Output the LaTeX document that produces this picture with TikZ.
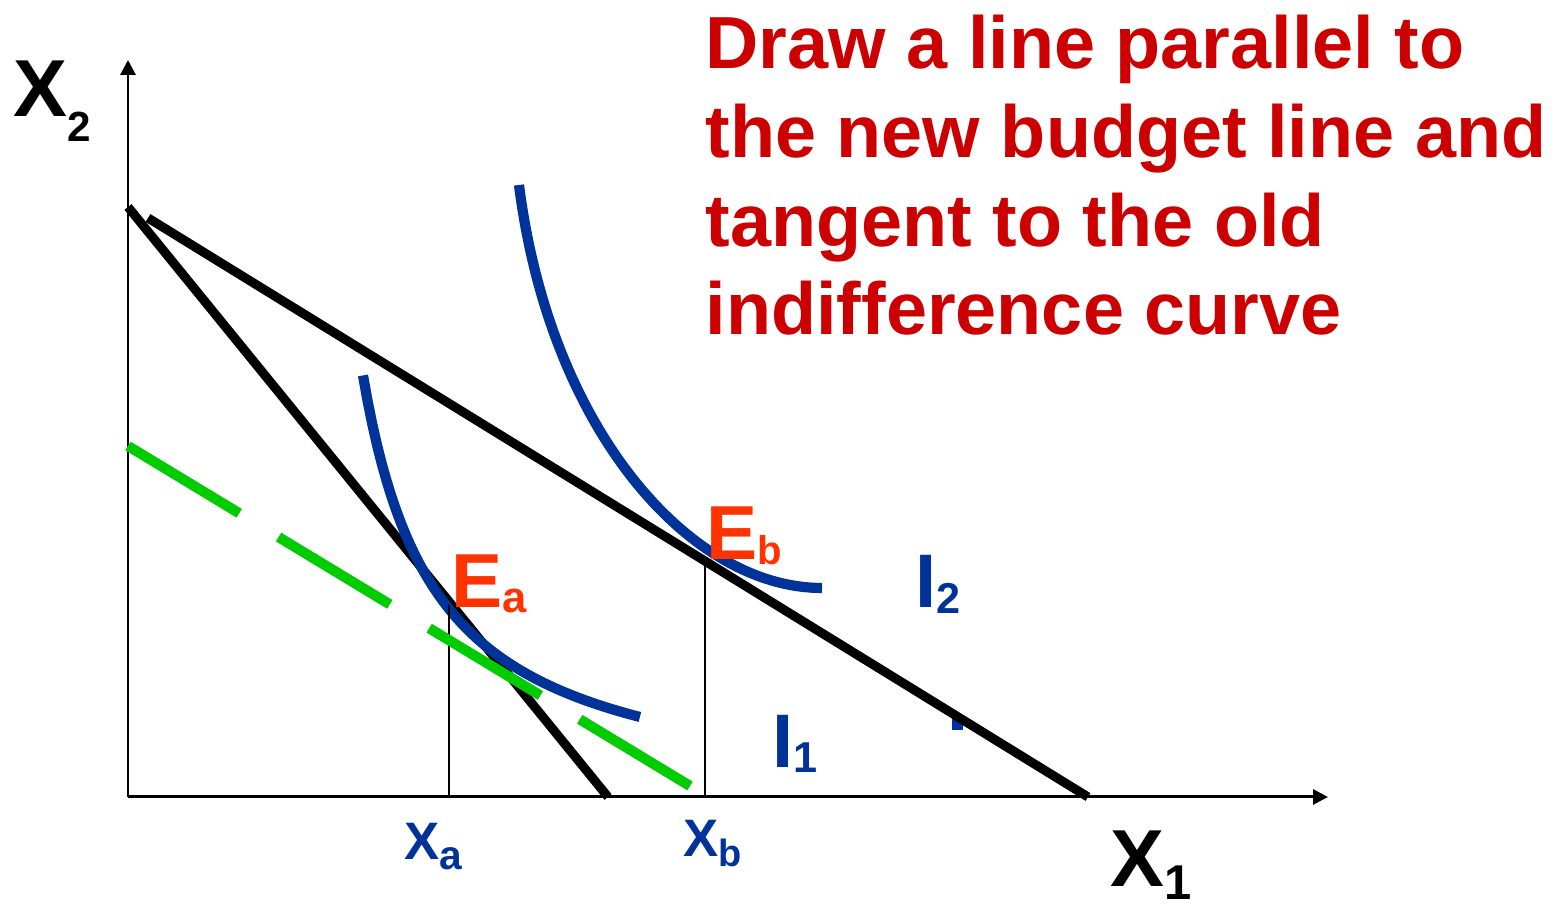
\documentclass[tikz,border=0pt]{standalone}
\usepackage{fontspec}
\setmainfont{Liberation Sans}
\usepackage{xcolor}
\usetikzlibrary{arrows.meta,calc}

\definecolor{icblue}{HTML}{003399}
\definecolor{eorange}{HTML}{FF3300}
\definecolor{notered}{HTML}{CC0000}
\definecolor{dashgreen}{HTML}{00CC00}

% label with a lowered subscript: main, sub, drop, sub size
\newcommand{\withsub}[4]{#1\raisebox{-#3}{\fontsize{#4}{#4}\selectfont #2}}

\begin{document}
\begin{tikzpicture}[
  axis/.style={draw, line width=0.85pt, -{Triangle[length=1.5mm,width=1.5mm]}},
  budget/.style={draw, line width=2.6pt},
  icurve/.style={draw=icblue, line width=2.9pt},
  guide/.style={draw, line width=0.6pt},
  shifted/.style={draw=dashgreen, line width=2.9pt, dash pattern=on 1.3cm off 0.46cm},
  lbl/.style={inner sep=0pt, anchor=base west},
  axlbl/.style={lbl, font=\fontsize{23pt}{23pt}\selectfont\bfseries},
  eqlbl/.style={lbl, text=eorange, font=\fontsize{21.8pt}{21.8pt}\selectfont\bfseries},
  iclbl/.style={lbl, text=icblue, font=\fontsize{21.6pt}{21.6pt}\selectfont\bfseries},
  qlbl/.style={lbl, text=icblue, font=\fontsize{15pt}{15pt}\selectfont\bfseries},
]
  \useasboundingbox (0,0) rectangle (15.64,9.07);
  % AXES
  \coordinate (O) at (1.28,1.10);
  \coordinate (ytip) at (1.28,8.47);
  \coordinate (xtip) at (13.28,1.10);
  \draw[axis] (O) -- (ytip);
  \draw[axis] (O) -- (xtip);
  \node[axlbl] (x2-lab) at (0.13,7.90) {\withsub{X}{2}{0.25cm}{12pt}};
  \node[axlbl] (x1-lab) at (11.10,0.20) {\withsub{X}{1}{0.13cm}{13.9pt}};
  % BUDGET LINES
  \coordinate (old-top) at (1.28,7.00);
  \coordinate (old-end) at (6.08,1.10);
  \coordinate (new-top) at (1.48,6.89);
  \coordinate (new-end) at (10.88,1.10);
  \coordinate (Ea) at (4.49,3.02);
  \coordinate (Eb) at (7.05,3.49);
  \draw[budget] (old-top) -- (old-end);
  % INDIFFERENCE CURVES
  \draw[icurve] plot[domain=3.63:6.40, samples=60] (\x,{1.00+3.15/(\x-2.90)});
  \coordinate (i2-top) at (5.19,7.22);
  \coordinate (i2-end) at (8.22,3.19);
  \draw[icurve] (i2-top) .. controls (5.50,4.77) and (6.90,3.19) .. (i2-end);
  \fill[icblue] (9.52,1.77) rectangle (9.63,1.92);
  \draw[budget] (new-top) -- (new-end);
  % DROP LINES
  \draw[guide] (Ea) -- (Ea |- O);
  \draw[guide] (Eb) -- (Eb |- O);
  % PARALLEL LINE
  \coordinate (par-top) at (1.28,4.61);
  \coordinate (par-end) at (6.90,1.21);
  \draw[shifted] (par-top) -- (par-end);
  % LABELS
  \node[eqlbl] (ea-lab) at (4.51,2.99) {\withsub{E}{a}{0.05cm}{12.4pt}};
  \node[eqlbl] (eb-lab) at (7.06,3.47) {\withsub{E}{b}{0.05cm}{11.4pt}};
  \node[iclbl] (i2-lab) at (9.15,2.99) {\withsub{I}{2}{0.06cm}{12.3pt}};
  \node[iclbl] (i1-lab) at (7.72,1.39) {\withsub{I}{1}{0.05cm}{12.3pt}};
  \node[qlbl] (xa-lab) at (4.04,0.47) {\withsub{X}{a}{0.10cm}{11.6pt}};
  \node[qlbl] (xb-lab) at (6.83,0.50) {\withsub{X}{b}{0.10cm}{10.8pt}};
  % NOTE
  \node[inner sep=0pt, anchor=north west, align=left, text=notered,
        font=\fontsize{21pt}{25.3pt}\selectfont\bfseries] (note) at (7.05,8.93)
    {Draw a line parallel to\\the new budget line and\\tangent to the old\\indifference curve};
\end{tikzpicture}
\end{document}
